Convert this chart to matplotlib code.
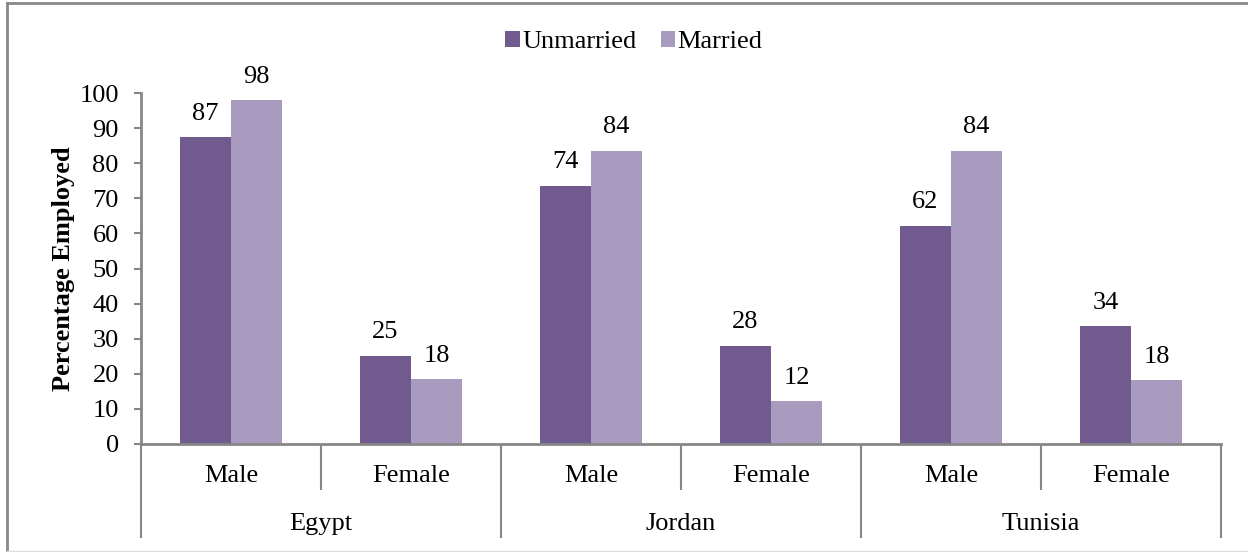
import matplotlib.pyplot as plt
from matplotlib.lines import Line2D
from matplotlib.transforms import blended_transform_factory

#  chart data
countries = ['Egypt', 'Jordan', 'Tunisia']
sexes = ['Male', 'Female']
unmarried = [87.4, 25.2, 73.6, 28.0, 62.2, 33.6]
married = [98.0, 18.4, 83.6, 12.2, 83.6, 18.2]
unmarried_labels = ['87', '25', '74', '28', '62', '34']
married_labels = ['98', '18', '84', '12', '84', '18']
y_ticks = [0, 10, 20, 30, 40, 50, 60, 70, 80, 90, 100]

c_unmarried = '#705A8E'
c_married = '#A99ABF'
axis_grey = '#868686'
fsize = 19

plt.rcParams['font.family'] = ['Liberation Serif', 'DejaVu Serif']

W, H = 1248, 552
fig = plt.figure(figsize=(W / 100, H / 100), dpi=100)

#  plot area in pixel coords of the reference
x0, x1, y_top, y_base = 141, 1221, 93, 444
ax = fig.add_axes([x0 / W, (H - y_base) / H, (x1 - x0) / W, (y_base - y_top) / H])

n = len(unmarried)
xs = list(range(n))
bw = 0.285
bars_u = ax.bar([x - bw / 2 for x in xs], unmarried, bw, color=c_unmarried, label='Unmarried')
bars_m = ax.bar([x + bw / 2 for x in xs], married, bw, color=c_married, label='Married')

for bars, labels in ((bars_u, unmarried_labels), (bars_m, married_labels)):
    for b, lab in zip(bars, labels):
        ax.annotate(lab, (b.get_x() + b.get_width() / 2, b.get_height()),
                    xytext=(0, 9), textcoords='offset points',
                    ha='center', va='bottom', fontsize=fsize)

ax.set_xlim(-0.5, n - 0.5)
ax.set_ylim(0, 100)
ax.set_yticks(y_ticks)
ax.tick_params(axis='y', direction='out', length=5, width=1.5, color=axis_grey,
               labelsize=fsize, pad=11)

for side in ('top', 'right'):
    ax.spines[side].set_visible(False)
for side in ('left', 'bottom'):
    ax.spines[side].set_color(axis_grey)
    ax.spines[side].set_linewidth(2)

#  two level category axis: separators drawn as ticks
ax.set_xticks([-0.5, 1.5, 3.5, 5.5])
ax.set_xticks([0.5, 2.5, 4.5], minor=True)
ax.tick_params(axis='x', which='major', direction='out', length=68, width=1.5,
               color=axis_grey, labelbottom=False)
ax.tick_params(axis='x', which='minor', direction='out', length=33, width=1.5,
               color=axis_grey, labelbottom=False)

trans = blended_transform_factory(ax.transData, ax.transAxes)
ah = y_base - y_top
for i, x in enumerate(xs):
    ax.text(x, -(476 - y_base) / ah, sexes[i % 2], transform=trans,
            ha='center', va='center', fontsize=fsize)
for j, c in enumerate(countries):
    ax.text(2 * j + 0.5, -(524 - y_base) / ah, c, transform=trans,
            ha='center', va='center', fontsize=fsize)

ax.set_ylabel('Percentage Employed', fontsize=fsize, fontweight='bold', labelpad=3)

leg = ax.legend(loc='center', bbox_to_anchor=(634 / W, (H - 42) / H),
                bbox_transform=fig.transFigure, ncol=2, frameon=False,
                fontsize=fsize, handlelength=0.55, handleheight=0.55,
                handletextpad=0.1, columnspacing=0.9)

#  chart border like the Excel chart area
fig.add_artist(Line2D([7 / W, 7 / W], [0, 1 - 3 / H], color='#888888', lw=2,
                      transform=fig.transFigure))
fig.add_artist(Line2D([7 / W, 1], [1 - 3 / H, 1 - 3 / H], color='#888888', lw=2,
                      transform=fig.transFigure))
fig.add_artist(Line2D([7 / W, 1], [1 / H, 1 / H], color='#dddddd', lw=1,
                      transform=fig.transFigure))

fig.savefig('out.png', dpi=100)
